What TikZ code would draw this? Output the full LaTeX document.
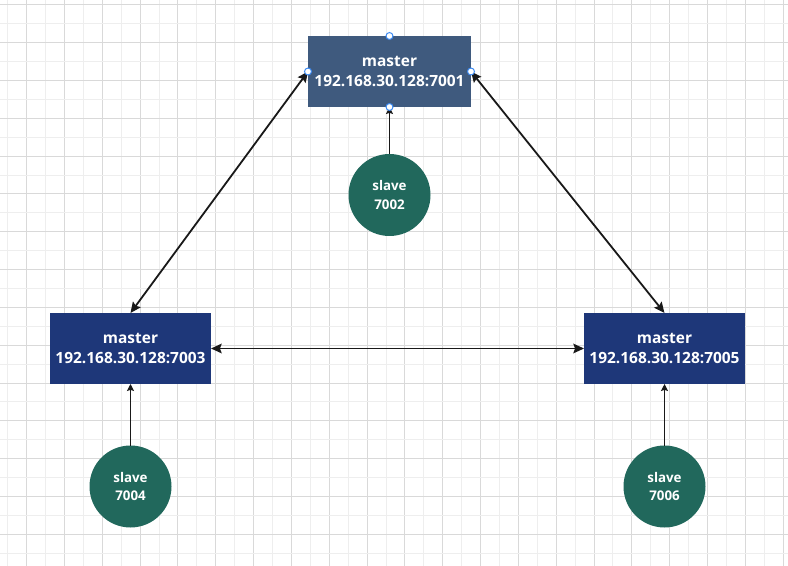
\documentclass[tikz,border=0pt]{standalone}
\usepackage{fontspec}
\setmainfont{Open Sans}
\usetikzlibrary{arrows.meta}
\definecolor{topbox}{HTML}{3F5A7E}
\definecolor{navybox}{HTML}{1E3779}
\definecolor{slavefill}{HTML}{21685C}
\definecolor{gridlight}{HTML}{EEEEEE}
\definecolor{griddark}{HTML}{D9D9D9}
\definecolor{handleblue}{HTML}{3D8BF2}
\tikzset{
  masterbox/.style={rectangle, fill=navybox, text=white, inner sep=0pt, outer sep=0pt,
    minimum width=120.75pt, minimum height=53.25pt, align=center,
    font=\fontsize{11.6}{15}\selectfont\bfseries},
  slavenode/.style={circle, fill=slavefill, text=white, inner sep=0pt, outer sep=0pt,
    minimum size=61.5pt, align=center, font=\fontsize{10}{14}\selectfont\bfseries},
  bigarrow/.style={line width=1.35pt, black!90, {Stealth[length=8pt,width=7.2pt,inset=1.3pt]}-{Stealth[length=8pt,width=7.2pt,inset=1.3pt]}},
  smallarrow/.style={line width=0.85pt, black!90, -{Stealth[length=5.2pt,width=5.2pt,inset=0.8pt]}},
  handle/.style={circle, draw=handleblue, fill=white, line width=0.75pt, inner sep=0pt, minimum size=5.2pt}
}
\begin{document}
\begin{tikzpicture}[x=0.75pt, y=-0.75pt]
\useasboundingbox (0,0) rectangle (788,566);
\fill[white] (0,0) rectangle (788,566);
% grid
\foreach \k in {0,...,41}{
  \pgfmathsetmacro{\xx}{7.8+18.91*\k}
  \pgfmathtruncatemacro{\odd}{mod(\k,2)}
  \ifnum\odd=1
    \draw[griddark, line width=0.75pt] (\xx,0) -- (\xx,566);
  \else
    \draw[gridlight, line width=0.75pt] (\xx,0) -- (\xx,566);
  \fi
}
\foreach \k in {0,...,29}{
  \pgfmathsetmacro{\yy}{5+18.9*\k}
  \pgfmathtruncatemacro{\odd}{mod(\k,2)}
  \ifnum\odd=0
    \draw[griddark, line width=0.75pt] (0,\yy) -- (788,\yy);
  \else
    \draw[gridlight, line width=0.75pt] (0,\yy) -- (788,\yy);
  \fi
}
% nodes
\node[masterbox, fill=topbox, minimum width=122.25pt] (m1) at (389.5,71.5) {master\\192.168.30.128:7001};
\node[masterbox] (m3) at (130.5,348.5) {master\\192.168.30.128:7003};
\node[masterbox] (m5) at (664.5,348.5) {master\\192.168.30.128:7005};
\node[slavenode] (s2) at (389.5,195) {slave\\7002};
\node[slavenode] (s4) at (130.5,486.5) {slave\\7004};
\node[slavenode] (s6) at (664.5,486.5) {slave\\7006};
% connectors
\draw[bigarrow] (m1.west) -- (m3.north);
\draw[bigarrow] (m1.east) -- (m5.north);
\draw[bigarrow] (m3.east) -- (m5.west);
\draw[smallarrow] (s2.north) -- (m1.south);
\draw[smallarrow] (s4.north) -- (m3.south);
\draw[smallarrow] (s6.north) -- (m5.south);
% selection handles
\node[handle] (h1) at (m1.north) {};
\node[handle] (h2) at (m1.west) {};
\node[handle] (h3) at (m1.east) {};
\node[handle] (h4) at (m1.south) {};
\end{tikzpicture}
\end{document}
